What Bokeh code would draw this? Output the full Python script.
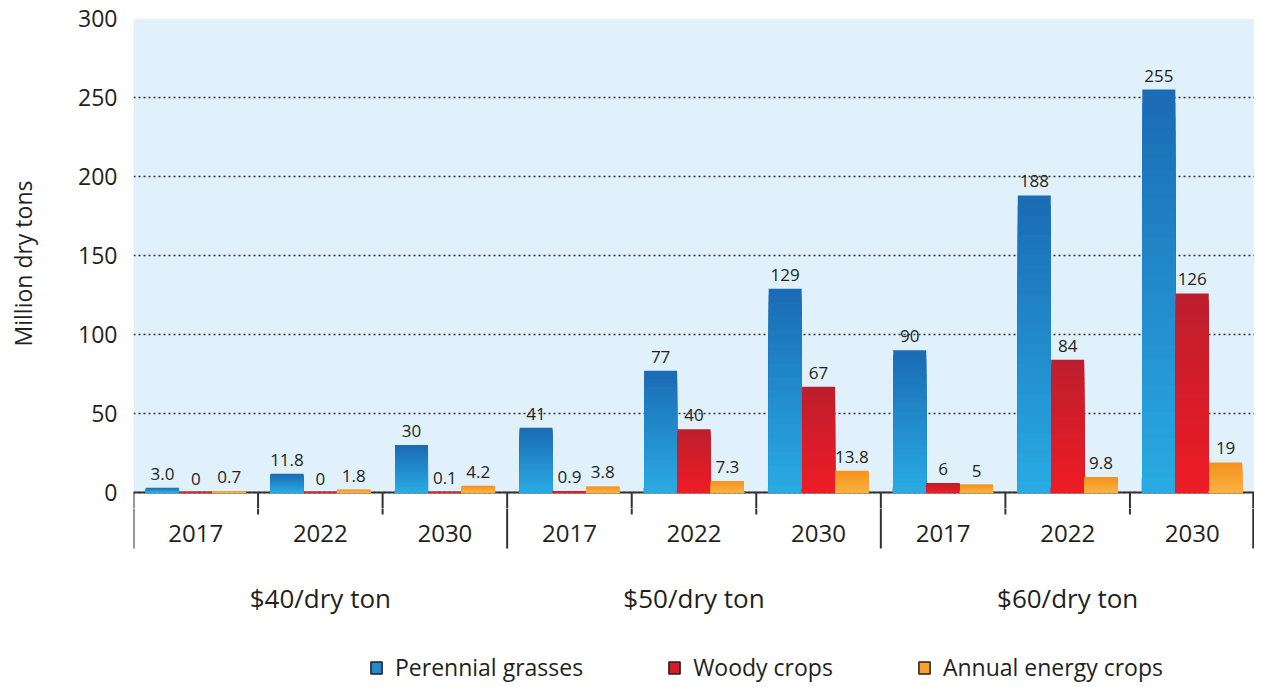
from bokeh.plotting import figure
from bokeh.models import (FactorRange, Range1d, FixedTicker, Span, ColumnDataSource,
                          Legend, LegendItem, BoxAnnotation)
from bokeh.transform import dodge
from bokeh.layouts import column
from bokeh.core.properties import value
from bokeh.embed import file_html
from bokeh.resources import INLINE

# ---------------- data ----------------
prices = ["$40/dry ton", "$50/dry ton", "$60/dry ton"]
years = ["2017", "2022", "2030"]
perennial = [3.0, 11.8, 30, 41, 77, 129, 90, 188, 255]
woody = [0, 0, 0.1, 0.9, 40, 67, 6, 84, 126]
annual = [0.7, 1.8, 4.2, 3.8, 7.3, 13.8, 5, 9.8, 19]
perennial_labels = ["3.0", "11.8", "30", "41", "77", "129", "90", "188", "255"]
woody_labels = ["0", "0", "0.1", "0.9", "40", "67", "6", "84", "126"]
annual_labels = ["0.7", "1.8", "4.2", "3.8", "7.3", "13.8", "5", "9.8", "19"]
series_names = ["Perennial grasses", "Woody crops", "Annual energy crops"]
y_ticks = [0, 50, 100, 150, 200, 250, 300]

FONT = "Open Sans"
TXT = "#231f20"

# layout constants (pixels)
PLOT_H = 474          # height of the 0..300 band
EXT = 16              # white strip below zero kept in the top figure
Y_MAX = 300
y_min = -EXT * Y_MAX / PLOT_H

factors = [(p, y) for p in prices for y in years]
x_range = FactorRange(*factors, factor_padding=0, group_padding=0, range_padding=0)

# ---------------- top figure ----------------
p = figure(x_range=x_range, y_range=Range1d(y_min, Y_MAX), width=1254, height=18 + PLOT_H + EXT,
           output_backend="svg", toolbar_location=None,
           min_border_left=133, min_border_right=0, min_border_top=18, min_border_bottom=0)
p.xaxis.visible = False
p.outline_line_color = None
p.background_fill_color = "white"
p.border_fill_color = "white"
p.add_layout(BoxAnnotation(bottom=0, top=Y_MAX, fill_color="#e0f1fb", fill_alpha=1,
                           line_color=None, level="image"))
p.xgrid.grid_line_color = None
p.ygrid.grid_line_color = "#333333"
p.ygrid.grid_line_dash = "2 3"
p.ygrid.grid_line_width = 1.5
p.yaxis.ticker = FixedTicker(ticks=y_ticks)
p.yaxis.axis_line_color = None
p.yaxis.major_tick_line_color = None
p.yaxis.minor_tick_line_color = None
p.yaxis.major_label_text_font = FONT
p.yaxis.major_label_text_font_size = "23px"
p.yaxis.major_label_text_color = TXT
p.yaxis.major_label_standoff = 10
p.yaxis.axis_label = "Million dry tons"
p.yaxis.axis_label_text_font = FONT
p.yaxis.axis_label_text_font_size = "23px"
p.yaxis.axis_label_text_font_style = "normal"
p.yaxis.axis_label_text_color = TXT
p.yaxis.axis_label_standoff = 36

p.add_layout(Span(location=0, dimension="width", line_color="#333333", line_width=2,
                  level="underlay"))


def hex2rgb(h):
    h = h.lstrip("#")
    return tuple(int(h[i:i + 2], 16) for i in (0, 2, 4))


def mix(c1, c2, t):
    a, b = hex2rgb(c1), hex2rgb(c2)
    return "#%02x%02x%02x" % tuple(int(round(a[i] + (b[i] - a[i]) * t)) for i in range(3))


BAR_W = 0.265
OFF = 0.268
N = 30
gradients = [("#1b6cb4", "#29aae2"), ("#bd1e2d", "#ee1c25"), ("#f6921e", "#fbb040")]
series = [perennial, woody, annual]
labels = [perennial_labels, woody_labels, annual_labels]
offsets = [-OFF, 0.0, OFF]

for vals, off, (ctop, cbot) in zip(series, offsets, gradients):
    for i in range(N):
        frac = (N - i) / N
        src = ColumnDataSource(dict(x=factors, top=[v * frac for v in vals]))
        col = mix(ctop, cbot, i / (N - 1))
        last = (i == N - 1)
        p.vbar(x=dodge("x", off, range=x_range), top="top", width=BAR_W, bottom=0,
               source=src, fill_color=col,
               line_color=col if last else None, line_width=1.5 if last else 0)

for vals, labs, off in zip(series, labels, offsets):
    lsrc = ColumnDataSource(dict(x=factors, y=vals, t=labs))
    p.text(x=dodge("x", off, range=x_range), y="y", text="t", source=lsrc,
           text_align="center", text_baseline="bottom", y_offset=-8,
           text_font=value(FONT), text_font_size="17px", text_color=TXT)

# ---------------- bottom figure (category axis + legend) ----------------
BOT_H = 190 - EXT
q = figure(x_range=x_range, y_range=Range1d(-190, -EXT), width=1254, height=BOT_H,
           output_backend="svg", toolbar_location=None,
           min_border_left=133, min_border_right=0, min_border_top=0, min_border_bottom=0)
q.axis.visible = False
q.grid.grid_line_color = None
q.outline_line_color = None
q.background_fill_color = "white"


def separators(fig, y_short, y_long):
    short_x = [(pr, yr) for pr in prices for yr in years[1:]]
    fig.segment(x0=dodge("x", -0.5, range=x_range), x1=dodge("x", -0.5, range=x_range),
                y0=0, y1=y_short, source=ColumnDataSource(dict(x=short_x)),
                line_color="#333333", line_width=2)
    long_x = [(pr, years[0]) for pr in prices]
    fig.segment(x0=dodge("x", -0.5, range=x_range), x1=dodge("x", -0.5, range=x_range),
                y0=0, y1=y_long, source=ColumnDataSource(dict(x=long_x)),
                line_color="#333333", line_width=2)
    fig.segment(x0=dodge("x", 0.49, range=x_range), x1=dodge("x", 0.49, range=x_range),
                y0=0, y1=y_long, source=ColumnDataSource(dict(x=[factors[-1]])),
                line_color="#333333", line_width=2)


# upper part of the separators (inside the top figure, below zero)
separators(p, y_min * 2, y_min * 2)
# lower part (in pixel units of the bottom figure)
separators(q, -22, -56)

q.text(x="x", y=-41, text="t", source=ColumnDataSource(dict(x=factors, t=[f[1] for f in factors])),
       text_align="center", text_baseline="middle",
       text_font=value(FONT), text_font_size="24px", text_color=TXT)
q.text(x="x", y=-105, text="t", source=ColumnDataSource(dict(x=prices, t=prices)),
       text_align="center", text_baseline="middle",
       text_font=value(FONT), text_font_size="26px", text_color=TXT)

# legend (glyphs placed above the visible range so only legend icons show)
items = []
for name, (ctop, cbot) in zip(series_names, gradients):
    r = q.quad(left=[factors[0]], right=[factors[0]], top=[50], bottom=[40],
               fill_color=mix(ctop, cbot, 0.5), line_color="#231f20", line_width=1.5)
    items.append(LegendItem(label=name, renderers=[r]))
leg = Legend(items=items, orientation="horizontal", location=(236, -1),
             glyph_width=14, glyph_height=15, label_standoff=12, spacing=84,
             padding=0, margin=0, border_line_color=None, background_fill_alpha=0,
             label_text_font=FONT, label_text_font_size="23px", label_text_color=TXT,
             label_height=20)
q.add_layout(leg, "center")

layout = column(p, q, spacing=0)
open("out.html", "w").write(file_html(layout, INLINE))
